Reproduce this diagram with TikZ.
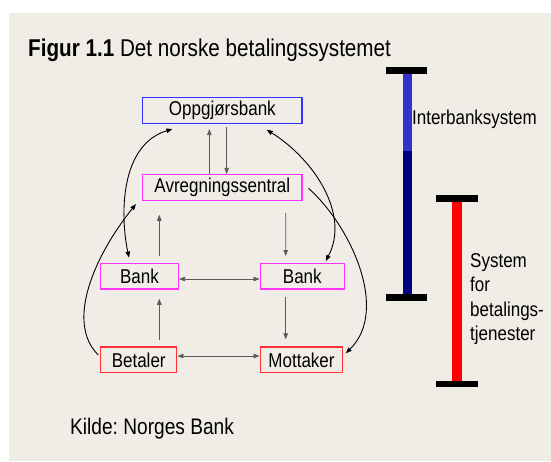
\documentclass[tikz,border=0pt]{standalone}
\usepackage{fontspec}
\setmainfont{Liberation Sans}[FakeStretch=0.85]
\usepackage{tikz}
\usetikzlibrary{arrows.meta}

\definecolor{paper}{RGB}{240,237,231}
\definecolor{oppblue}{RGB}{51,51,255}
\definecolor{avrmag}{RGB}{255,51,255}
\definecolor{betred}{RGB}{255,51,51}
\definecolor{barlight}{RGB}{51,51,204}
\definecolor{barnavy}{RGB}{0,0,128}
\definecolor{linegray}{RGB}{90,90,90}

\tikzset{
  tip/.tip={Triangle[length=6pt,width=4.5pt]},
  box/.style={draw,line width=1.5pt,fill=paper,inner sep=0pt,minimum height=25.6pt,
    font=\fontsize{20}{24}\selectfont},
  gline/.style={draw=linegray,line width=0.7pt,-tip},
  cline/.style={draw=black,line width=0.9pt,-tip},
  lbl/.style={anchor=base west,inner sep=0pt,font=\fontsize{20}{24.5}\selectfont}
}

\begin{document}
\frenchspacing
\begin{tikzpicture}[x=1pt,y=-1pt]
\useasboundingbox (0,0) rectangle (551,461);
\fill[paper] (9,13) rectangle (551,461);

\node[anchor=base west,inner sep=0pt,font=\fontsize{24.3}{29}\selectfont] (title) at (28,56.7)
  {\textbf{Figur 1.1} Det norske betalingssystemet};

% the payment chain
\node[box,draw=oppblue,minimum width=159.3pt] (opp) at (222.35,110.5) {Oppgjørsbank};
\node[box,draw=avrmag,minimum width=159.3pt] (avreg) at (222.35,187.5) {Avregningssentral};
\node[box,draw=avrmag,minimum width=77.6pt] (bankl) at (139.5,276.2) {Bank};
\node[box,draw=avrmag,minimum width=84pt] (bankr) at (302.3,276.2) {Bank};
\node[box,draw=betred,minimum width=76pt] (betaler) at (138.7,359.9) {Betaler};
\node[box,draw=betred,minimum width=82.4pt] (mottaker) at (301.5,359.9) {Mottaker};

\path ([xshift=-13pt]avreg.north) edge[gline,shorten >=5pt] ([xshift=-13pt]opp.south);
\path ([xshift=4.3pt]opp.south) edge[gline,shorten <=3pt] ([xshift=4.3pt]avreg.north);
\path ([xshift=19.8pt]bankl.north) edge[gline,shorten <=6.6pt,shorten >=13.7pt] ([xshift=-63.05pt]avreg.south);
\path ([xshift=63.35pt]avreg.south) edge[gline,shorten <=11.7pt,shorten >=6.6pt] ([xshift=-16.6pt]bankr.north);
\path ([yshift=-2.8pt]bankl.east) edge[gline,tip-tip] ([yshift=-2.8pt]bankr.west);
\path ([xshift=20.6pt]betaler.north) edge[gline,shorten <=6pt,shorten >=9pt] ([xshift=19.8pt]bankl.south);
\path ([xshift=-16.6pt]bankr.south) edge[gline,shorten <=7.7pt,shorten >=7pt] ([xshift=-15.8pt]mottaker.north);
\path ([yshift=3.9pt]betaler.east) edge[gline,tip-tip] ([yshift=3.9pt]mottaker.west);

\draw[cline,tip-tip] ([xshift=-50pt,yshift=-5pt]opp.south) .. controls (120,145) and (120,215) .. ([xshift=-10.5pt,yshift=5pt]bankl.north);
\draw[cline,tip-tip] ([xshift=44.35pt,yshift=-5.7pt]opp.south) .. controls (315,160) and (350,215) .. ([xshift=23.4pt,yshift=1.6pt]bankr.north);
\draw[cline] ([xshift=-1.7pt,yshift=4.9pt]betaler.west) .. controls (65,322) and (95,255) .. ([xshift=-6pt,yshift=-3pt]avreg.south west);
\draw[cline] ([xshift=5.7pt,yshift=-0.8pt]avreg.east) .. controls (350,225) and (390,310) .. ([xshift=2.3pt,yshift=6.6pt]mottaker.east);

% the two bars
\fill[barlight] (403.3,73) rectangle (411.7,150.7);
\fill[barnavy] (403.3,150.7) rectangle (411.7,294);
\fill[black] (386,67.3) rectangle (426.7,73.5);
\fill[black] (386,294) rectangle (426.7,300.7);
\node[lbl] (inter) at (411.9,124.5) {Interbanksystem};

\fill[red] (452.3,201) rectangle (461.7,381);
\fill[black] (436,195) rectangle (477.7,201.7);
\fill[black] (436,380.7) rectangle (477.7,387.3);
\node[lbl,align=left] (tjen) at (470,340.8) {System\\for\\betalings-\\tjenester};

\node[anchor=base west,inner sep=0pt,font=\fontsize{22.5}{27}\selectfont] (kilde) at (70,434) {Kilde: Norges Bank};
\end{tikzpicture}
\end{document}
